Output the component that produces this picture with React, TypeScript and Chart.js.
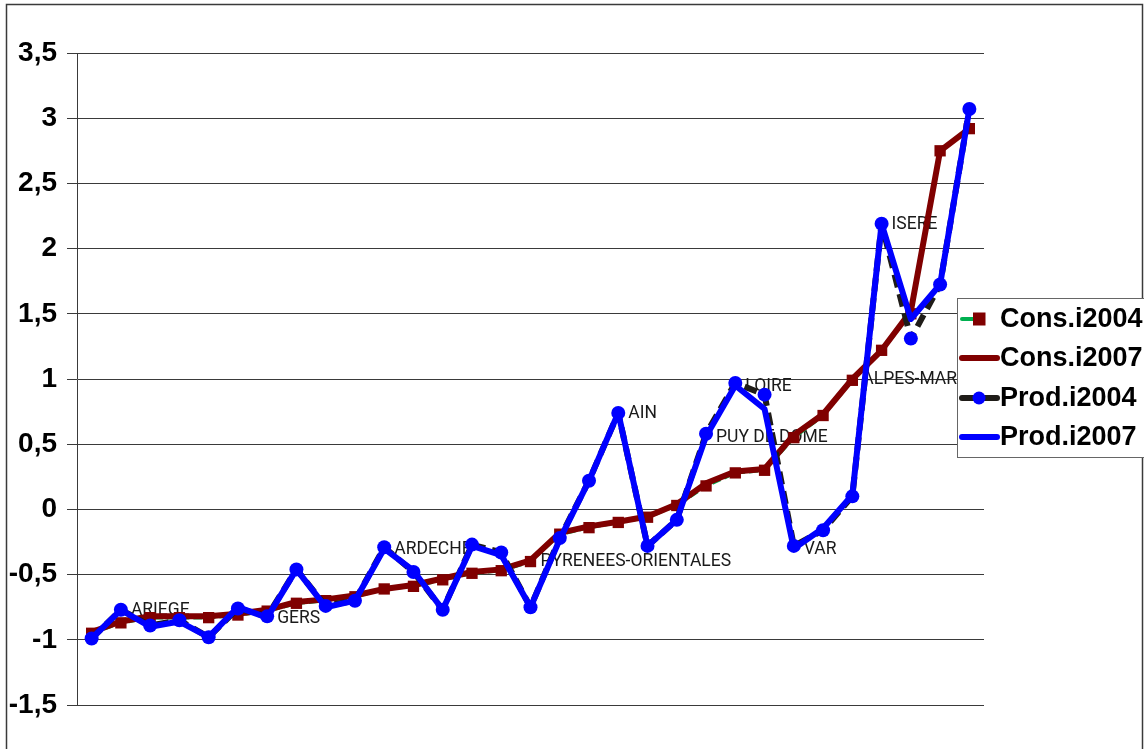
import React, { useEffect, useRef } from "react";
import { Chart, registerables } from "chart.js";

Chart.register(...registerables);

// ---- data ----
const categories = [
  "", "ARIEGE", "", "", "", "", "GERS", "", "", "", "ARDECHE", "", "", "", "", "PYRENEES-ORIENTALES",
  "", "", "AIN", "", "", "PUY DE DOME", "LOIRE", "", "VAR", "", "ALPES-MAR", "ISERE", "", "", "",
];
const consI2004 = [
  -0.95, -0.87, -0.83, -0.83, -0.83, -0.81, -0.78, -0.72, -0.7, -0.67, -0.61, -0.59, -0.54, -0.49, -0.47, -0.4,
  -0.19, -0.14, -0.1, -0.06, 0.03, 0.18, 0.28, 0.3, 0.55, 0.72, 0.99, 1.22, 1.5, 2.75, 2.92,
];
const consI2007 = [
  -0.94, -0.86, -0.82, -0.82, -0.82, -0.8, -0.77, -0.71, -0.69, -0.66, -0.61, -0.58, -0.53, -0.48, -0.46, -0.39,
  -0.18, -0.13, -0.095, -0.055, 0.04, 0.2, 0.29, 0.31, 0.57, 0.73, 1.0, 1.22, 1.52, 2.75, 2.92,
];
const prodI2004 = [
  -0.99, -0.77, -0.89, -0.85, -0.98, -0.76, -0.82, -0.46, -0.74, -0.7, -0.29, -0.48, -0.77, -0.27, -0.33, -0.75,
  -0.22, 0.22, 0.74, -0.28, -0.08, 0.58, 0.97, 0.88, -0.28, -0.16, 0.1, 2.19, 1.31, 1.725, 3.07,
];
const prodI2007 = [
  -0.99, -0.77, -0.9, -0.86, -0.98, -0.75, -0.83, -0.46, -0.75, -0.7, -0.3, -0.47, -0.77, -0.28, -0.35, -0.75,
  -0.23, 0.22, 0.74, -0.28, -0.08, 0.56, 0.95, 0.77, -0.3, -0.145, 0.11, 2.19, 1.46, 1.725, 3.07,
];
const seriesNames = ["Cons.i2004", "Cons.i2007", "Prod.i2004", "Prod.i2007"];
const consLabelled = ["PYRENEES-ORIENTALES", "ALPES-MAR"];
const yMin = -1.5;
const yMax = 3.5;
const yStep = 0.5;

const GREEN = "#00B050";
const DARKRED = "#800000";
const BLACKISH = "#1f1c18";
const BLUE = "#0000FF";
const AXIS_FONT = "'Liberation Sans', Arial, sans-serif";

export default function App() {
  const ref = useRef<HTMLCanvasElement>(null);

  useEffect(() => {
    document.body.style.margin = "0";
    const canvas = ref.current!;

    const framePlugin = {
      id: "frame",
      beforeDraw(chart: any) {
        const ctx = chart.ctx;
        ctx.save();
        ctx.fillStyle = "#ffffff";
        ctx.fillRect(0, 0, chart.width, chart.height);
        ctx.strokeStyle = "#3a3a3a";
        ctx.lineWidth = 1.5;
        ctx.strokeRect(6.5, 4.5, 1136, 800);
        ctx.restore();
      },
    };

    const labelPlugin = {
      id: "pointLabels",
      beforeDatasetsDraw(chart: any) {
        const ctx = chart.ctx;
        ctx.save();
        ctx.font = "17.5px Roboto, 'Liberation Sans', Arial, sans-serif";
        ctx.fillStyle = "#1a1a1a";
        ctx.textAlign = "left";
        ctx.textBaseline = "middle";
        categories.forEach((name, i) => {
          if (!name) return;
          const dsIndex = consLabelled.includes(name) ? 1 : 3;
          const el = chart.getDatasetMeta(dsIndex).data[i];
          if (!el) return;
          ctx.fillText(name, el.x + 10, el.y + 1);
        });
        ctx.restore();
      },
    };

    const legendPlugin = {
      id: "boxLegend",
      afterDraw(chart: any) {
        const ctx = chart.ctx;
        const left = 957;
        const top = 298;
        const rowY = [319, 358, 398, 437];
        ctx.save();
        ctx.fillStyle = "#ffffff";
        ctx.fillRect(left, top, 200, 160);
        ctx.strokeStyle = "#666666";
        ctx.lineWidth = 1;
        ctx.strokeRect(left + 0.5, top + 0.5, 200, 159);
        ctx.lineCap = "round";
        chart.data.datasets.forEach((ds: any, k: number) => {
          const y = rowY[k];
          const x0 = 962;
          const x1 = 997;
          const xm = 979;
          ctx.strokeStyle = ds.borderColor;
          ctx.lineWidth = 6;
          ctx.beginPath();
          if (k === 0) {
            ctx.lineWidth = 4;
            ctx.moveTo(x0, y);
            ctx.lineTo(xm - 4, y);
          } else {
            ctx.moveTo(x0, y);
            ctx.lineTo(x1, y);
          }
          ctx.stroke();
          if (ds.pointRadius > 0) {
            ctx.fillStyle = ds.pointBackgroundColor;
            if (ds.pointStyle === "rect") {
              ctx.fillRect(xm - 6, y - 6.5, 12.5, 13);
            } else {
              ctx.beginPath();
              ctx.arc(xm, y, 6.5, 0, Math.PI * 2);
              ctx.fill();
            }
          }
          ctx.fillStyle = "#000000";
          ctx.font = `bold 27px ${AXIS_FONT}`;
          ctx.textAlign = "left";
          ctx.textBaseline = "middle";
          ctx.fillText(ds.label, 1000, y + 1);
        });
        ctx.restore();
      },
    };

    const chart = new Chart(canvas, {
      type: "line",
      data: {
        labels: categories,
        datasets: [
          {
            label: seriesNames[0],
            data: consI2004,
            borderColor: GREEN,
            borderWidth: 3.5,
            borderDash: [9, 4],
            borderJoinStyle: "round",
            pointStyle: "rect",
            pointRadius: 8,
            pointBackgroundColor: DARKRED,
            pointBorderColor: DARKRED,
            pointBorderWidth: 0,
            tension: 0,
            order: 4,
          },
          {
            label: seriesNames[1],
            data: consI2007,
            borderColor: DARKRED,
            borderWidth: 6,
            borderJoinStyle: "round",
            borderCapStyle: "round",
            pointRadius: 0,
            tension: 0,
            order: 3,
          },
          {
            label: seriesNames[2],
            data: prodI2004,
            borderColor: BLACKISH,
            borderWidth: 6,
            borderDash: [13, 7],
            borderJoinStyle: "round",
            pointStyle: "circle",
            pointRadius: 7,
            pointBackgroundColor: BLUE,
            pointBorderColor: BLUE,
            pointBorderWidth: 0,
            tension: 0,
            order: 2,
          },
          {
            label: seriesNames[3],
            data: prodI2007,
            borderColor: BLUE,
            borderWidth: 6,
            borderJoinStyle: "round",
            borderCapStyle: "round",
            pointRadius: 0,
            tension: 0,
            order: 1,
          },
        ] as any,
      },
      options: {
        responsive: false,
        animation: false,
        events: [],
        layout: { padding: { left: 0, top: 53, right: 160, bottom: 44 } },
        plugins: {
          legend: { display: false },
          tooltip: { enabled: false },
          title: { display: false },
        },
        scales: {
          x: {
            type: "category",
            display: false,
            offset: true,
            grid: { display: false },
          },
          y: {
            min: yMin,
            max: yMax,
            ticks: {
              stepSize: yStep,
              padding: 10,
              color: "#000000",
              font: { family: AXIS_FONT, size: 28, weight: "bold" },
              callback: (v: any) => String(Math.round(Number(v) * 10) / 10).replace(".", ","),
            },
            grid: { color: "#3a3a3a", lineWidth: 1, tickLength: 10, drawTicks: true },
            border: { display: true, color: "#3a3a3a", width: 1 },
            afterFit: (s: any) => {
              s.width = 77;
            },
          },
        },
      } as any,
      plugins: [framePlugin, labelPlugin, legendPlugin],
    });

    return () => chart.destroy();
  }, []);

  return (
    <div style={{ position: "absolute", left: 0, top: 0, width: 1144, height: 749 }}>
      <canvas ref={ref} width={1144} height={749} style={{ width: 1144, height: 749, display: "block" }} />
    </div>
  );
}
